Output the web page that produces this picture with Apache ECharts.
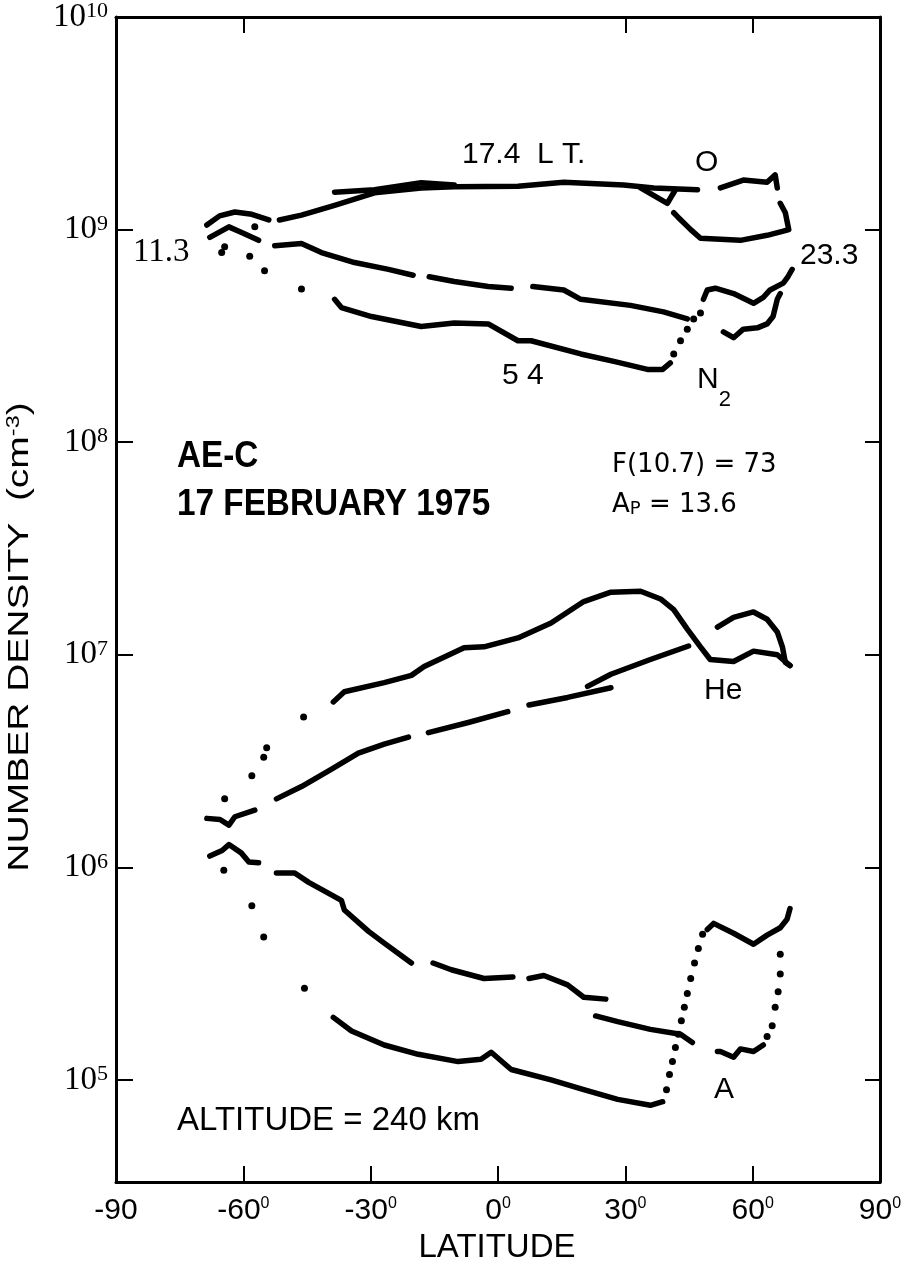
<!DOCTYPE html>
<html>
<head>
<meta charset="utf-8">
<script src="https://cdn.jsdelivr.net/npm/echarts@6.0.0/dist/echarts.min.js"></script>
<style>
  html, body { margin: 0; padding: 0; background: #fff; }
  #chart { width: 909px; height: 1265px; }
</style>
</head>
<body>
<div id="chart"></div>
<script>
// ===== data: [latitude (deg), number density (cm-3)] =====
// O / N2 group
var upperDayArc = [[-68.6,1.05e9],[-65.6,1.16e9],[-62.0,1.21e9],[-58.0,1.18e9],[-54.0,1.11e9]];
var upperDay = [[-51.5,1.11e9],[-46.3,1.17e9],[-38.5,1.30e9],[-29.1,1.49e9],[-18.1,1.57e9],[-10.3,1.59e9],[4.7,1.60e9],[15.5,1.67e9],[29.6,1.62e9],[36.7,1.57e9],[47.0,1.54e9]];
var upperDay2 = [[-38.5,1.50e9],[-29.1,1.54e9],[-18.1,1.66e9],[-10.3,1.62e9]];
var upperLoop = [[33.6,1.57e9],[39.9,1.33e9],[41.8,1.54e9]];
var oPolar = [[52.4,1.57e9],[57.8,1.71e9],[63.4,1.67e9],[65.3,1.81e9],[65.8,1.57e9]];
var oNight = [[66.5,1.33e9],[67.7,1.2e9],[68.5,1.0e9],[67.0,9.8e8],[63.4,9.4e8],[57.1,8.9e8],[47.7,9.1e8],[45.4,1.0e9],[42.3,1.15e9],[41.4,1.2e9]];
var secondArc = [[-67.9,9.2e8],[-63.4,1.03e9],[-60.4,9.7e8],[-56.4,8.9e8]];
var second1 = [[-52.6,8.4e8],[-46.3,8.6e8],[-41.6,7.8e8],[-33.8,7.0e8],[-25.8,6.5e8],[-20.0,6.1e8]];
var second2 = [[-16.2,6.0e8],[-10.3,5.7e8],[-2.3,5.4e8],[3.1,5.3e8]];
var second3 = [[8.2,5.4e8],[15.5,5.2e8],[19.5,4.7e8],[31.2,4.4e8],[39.0,4.1e8],[44.6,3.8e8]];
var n2Lower = [[-38.5,4.7e8],[-36.9,4.3e8],[-29.8,3.9e8],[-18.1,3.5e8],[-10.3,3.64e8],[-2.3,3.6e8],[4.7,3.0e8],[7.8,3.0e8],[19.5,2.6e8],[27.3,2.4e8],[35.2,2.2e8],[38.8,2.2e8],[40.6,2.36e8]];
var n2Night = [[48.4,4.7e8],[49.3,5.2e8],[51.2,5.3e8],[55.5,5.0e8],[60.2,4.5e8],[62.5,4.8e8],[64.1,5.2e8],[67.2,5.6e8],[68.3,6.0e8],[69.3,6.5e8]];
var n2Night2 = [[53.1,3.3e8],[55.5,3.1e8],[57.8,3.4e8],[61.1,3.45e8],[63.4,3.6e8],[64.8,3.9e8],[65.8,4.7e8],[66.5,5.0e8]];
var upperDots = [[-65.1,7.8e8],[-64.4,8.3e8],[-58.5,7.5e8],[-57.3,1.03e9],[-55.0,6.4e8],[-46.3,5.25e8],
                 [41.4,2.6e8],[43.0,3.0e8],[44.6,3.4e8],[46.1,3.8e8],[47.7,4.05e8]];

// He group
var heDay = [[-38.8,6.0e6],[-36.2,6.7e6],[-26.8,7.4e6],[-20.4,8.0e6],[-17.4,8.8e6],[-8.0,1.08e7],[-3.3,1.09e7],[4.7,1.20e7],[12.5,1.41e7],[20.2,1.78e7],[26.6,1.97e7],[33.6,1.99e7],[38.3,1.83e7],[41.4,1.63e7],[44.6,1.32e7],[47.7,1.09e7],[50.0,9.5e6],[55.5,9.3e6],[60.2,1.04e7],[65.8,1.0e7],[68.8,8.9e6]];
var heHump = [[51.7,1.35e7],[55.5,1.5e7],[60.2,1.59e7],[63.4,1.47e7],[65.8,1.28e7],[67.0,1.09e7],[67.7,9.2e6],[68.8,8.9e6]];
var heNight1 = [[-68.6,1.7e6],[-65.5,1.68e6],[-63.4,1.58e6],[-62.0,1.73e6],[-57.3,1.86e6]];
var heNight2 = [[-52.2,2.1e6],[-46.3,2.4e6],[-39.2,2.9e6],[-32.9,3.45e6],[-26.8,3.8e6],[-21.1,4.1e6]];
var heNight3 = [[-16.4,4.3e6],[-7.0,4.8e6],[2.3,5.4e6]];
var heNight4 = [[7.3,5.8e6],[16.4,6.3e6],[26.6,7.0e6]];
var heNight5 = [[21.1,7.1e6],[26.6,8.1e6],[35.9,9.5e6],[44.9,1.1e7]];
var heDots = [[-45.8,5.1e6],[-54.5,3.65e6],[-55.2,3.3e6],[-58.0,2.7e6],[-64.4,2.1e6]];

// A (argon) group
var aDayArc = [[-67.9,1.13e6],[-65.0,1.2e6],[-63.4,1.28e6],[-60.5,1.17e6],[-58.7,1.06e6],[-56.4,1.05e6]];
var aDay1 = [[-52.2,9.4e5],[-47.9,9.4e5],[-44.6,8.5e5],[-36.9,7.0e5],[-36.2,6.3e5],[-30.5,5.0e5],[-26.8,4.4e5],[-20.4,3.55e5]];
var aDay2 = [[-15.3,3.55e5],[-11.0,3.3e5],[-3.3,3.0e5],[3.5,3.05e5]];
var aDay3 = [[7.3,3.0e5],[10.8,3.1e5],[16.4,2.8e5],[20.2,2.45e5],[25.4,2.4e5]];
var aDay4 = [[23.0,2.0e5],[28.2,1.88e5],[35.9,1.73e5],[43.0,1.64e5],[45.8,1.5e5]];
var aLower = [[-38.8,1.97e5],[-34.5,1.7e5],[-26.8,1.46e5],[-18.8,1.32e5],[-9.4,1.22e5],[-4.0,1.25e5],[-1.6,1.35e5],[3.1,1.12e5],[12.5,1.0e5],[20.2,9.0e4],[28.2,8.1e4],[35.9,7.6e4],[38.8,7.9e4]];
var aNight = [[49.3,5.1e5],[50.8,5.45e5],[55.5,4.9e5],[60.2,4.35e5],[63.4,4.8e5],[66.5,5.2e5],[68.1,5.7e5],[68.8,6.4e5]];
var aNight2 = [[51.7,1.36e5],[52.4,1.36e5],[55.5,1.28e5],[57.1,1.4e5],[60.2,1.36e5],[62.5,1.46e5]];
var aDots = [[-64.6,9.7e5],[-58.0,6.6e5],[-55.2,4.7e5],[-45.6,2.7e5],
             [39.7,9.0e4],[40.4,1.06e5],[41.1,1.22e5],[41.8,1.42e5],[42.5,1.64e5],[43.2,1.9e5],[43.9,2.2e5],[44.6,2.55e5],[45.4,3.0e5],[46.3,3.55e5],[47.2,4.15e5],[48.2,4.85e5],
             [66.5,3.9e5],[66.5,3.15e5],[66.0,2.6e5],[65.3,2.2e5],[64.6,1.8e5],[63.4,1.6e5]];

var lineSegments = [upperDayArc, upperDay, upperDay2, upperLoop, oPolar, oNight, secondArc, second1, second2, second3,
                    n2Lower, n2Night, n2Night2,
                    heDay, heHump, heNight1, heNight2, heNight3, heNight4, heNight5,
                    aDayArc, aDay1, aDay2, aDay3, aDay4, aLower, aNight, aNight2];
var dotSets = [upperDots, heDots, aDots];

var topTicks = [-60, 30, 60];
var yMin = Math.pow(10, 4.52);
var yMax = 1e10;

var sans = "'Liberation Sans', Arial, sans-serif";
var serif = "'Liberation Serif', 'DejaVu Serif', serif";

var chart = echarts.init(document.getElementById('chart'));

var series = [];
lineSegments.forEach(function (seg) {
  series.push({
    type: 'line', data: seg,
    showSymbol: false, symbol: 'none', silent: true,
    lineStyle: { color: '#000', width: 5.5, cap: 'round', join: 'round' }
  });
});
dotSets.forEach(function (d) {
  series.push({
    type: 'scatter', data: d,
    symbolSize: 7, silent: true,
    itemStyle: { color: '#000', opacity: 1 }
  });
});

var option = {
  backgroundColor: '#fff',
  animation: false,
  grid: { left: 116, right: 29, top: 17, bottom: 83 },
  xAxis: [
    {
      type: 'value', position: 'bottom', min: -90, max: 90, interval: 30,
      axisLine: { show: true, onZero: false, lineStyle: { color: '#000', width: 3 } },
      axisTick: { show: true, inside: true, length: 16, lineStyle: { color: '#000', width: 2 } },
      splitLine: { show: false },
      axisLabel: {
        margin: 14, color: '#000', fontFamily: sans, fontSize: 30,
        formatter: function (v) { return v === -90 ? '-90' : v + '{d|0}'; },
        rich: { d: { fontFamily: sans, fontSize: 16, verticalAlign: 'top', lineHeight: 30, color: '#000' } }
      }
    },
    {
      type: 'value', position: 'top', min: -90, max: 90, interval: 30,
      axisLine: { show: true, onZero: false, lineStyle: { color: '#000', width: 3 } },
      axisTick: { show: true, inside: true, length: 16, customValues: topTicks, lineStyle: { color: '#000', width: 2 } },
      axisLabel: { show: false, customValues: topTicks },
      splitLine: { show: false }
    }
  ],
  yAxis: [
    {
      type: 'log', logBase: 10, position: 'left', min: yMin, max: yMax,
      axisLine: { show: true, onZero: false, lineStyle: { color: '#000', width: 3 } },
      axisTick: { show: true, inside: true, length: 17, lineStyle: { color: '#000', width: 2 } },
      minorTick: { show: false },
      splitLine: { show: false },
      axisLabel: {
        margin: 8, color: '#000', fontFamily: serif, fontSize: 33, showMinLabel: false,
        formatter: function (v) {
          var p = Math.round(Math.log(v) / Math.LN10);
          return '{b|10}{s|' + p + '}';
        },
        rich: {
          b: { fontFamily: serif, fontSize: 33, lineHeight: 33, color: '#000' },
          s: { fontFamily: serif, fontSize: 22, lineHeight: 22, verticalAlign: 'top', color: '#000' }
        }
      }
    },
    {
      type: 'log', logBase: 10, position: 'right', min: yMin, max: yMax,
      axisLine: { show: true, onZero: false, lineStyle: { color: '#000', width: 3 } },
      axisTick: { show: true, inside: true, length: 15, lineStyle: { color: '#000', width: 2 } },
      axisLabel: { show: false },
      splitLine: { show: false }
    }
  ],
  graphic: [
    { type: 'text', x: 20, y: 637, rotation: Math.PI / 2, scaleX: 1.3,
      style: { text: '{a|NUMBER DENSITY  (cm}{s|-3}{a|)}', align: 'center', verticalAlign: 'middle',
        rich: { a: { fontFamily: sans, fontSize: 30, fill: '#000', lineHeight: 30 },
                s: { fontFamily: sans, fontSize: 18, fill: '#000', lineHeight: 18, verticalAlign: 'top' } } } },
    { type: 'text', x: 497, y: 1248,
      style: { text: 'LATITUDE', fontFamily: sans, fontSize: 33, fill: '#000', align: 'center', verticalAlign: 'middle' } },
    { type: 'text', x: 462, y: 155,
      style: { text: '17.4  L T.', fontFamily: sans, fontSize: 30, fill: '#000', verticalAlign: 'middle' } },
    { type: 'text', x: 695, y: 163,
      style: { text: 'O', fontFamily: sans, fontSize: 30, fill: '#000', verticalAlign: 'middle' } },
    { type: 'text', x: 133, y: 252,
      style: { text: '11.3', fontFamily: serif, fontSize: 33, fill: '#000', verticalAlign: 'middle' } },
    { type: 'text', x: 800, y: 256,
      style: { text: '23.3', fontFamily: sans, fontSize: 30, fill: '#000', verticalAlign: 'middle' } },
    { type: 'text', x: 502, y: 376,
      style: { text: '5 4', fontFamily: sans, fontSize: 30, fill: '#000', verticalAlign: 'middle' } },
    { type: 'text', x: 697, y: 380,
      style: { text: '{a|N}{s|2}', verticalAlign: 'middle',
        rich: { a: { fontFamily: sans, fontSize: 30, fill: '#000', lineHeight: 30 },
                s: { fontFamily: sans, fontSize: 22, fill: '#000', lineHeight: 22, verticalAlign: 'bottom', padding: [0, 0, -16, 0] } } } },
    { type: 'text', x: 177, y: 457, scaleX: 0.9,
      style: { text: 'AE-C', fontFamily: sans, fontWeight: 'bold', fontSize: 37, fill: '#000', verticalAlign: 'middle' } },
    { type: 'text', x: 177, y: 505, scaleX: 0.9,
      style: { text: '17 FEBRUARY 1975', fontFamily: sans, fontWeight: 'bold', fontSize: 37, fill: '#000', verticalAlign: 'middle' } },
    { type: 'text', x: 612, y: 465,
      style: { text: 'F(10.7) = 73', fontFamily: "'DejaVu Sans', sans-serif", fontSize: 26, fill: '#000', verticalAlign: 'middle' } },
    { type: 'text', x: 612, y: 505,
      style: { text: '{a|A}{s|P}{a| = 13.6}', verticalAlign: 'middle',
        rich: { a: { fontFamily: "'DejaVu Sans', sans-serif", fontSize: 26, fill: '#000', lineHeight: 26 },
                s: { fontFamily: "'DejaVu Sans', sans-serif", fontSize: 18, fill: '#000', lineHeight: 26, verticalAlign: 'bottom' } } } },
    { type: 'text', x: 704, y: 691,
      style: { text: 'He', fontFamily: sans, fontSize: 30, fill: '#000', verticalAlign: 'middle' } },
    { type: 'text', x: 714, y: 1090,
      style: { text: 'A', fontFamily: sans, fontSize: 30, fill: '#000', verticalAlign: 'middle' } },
    { type: 'text', x: 177, y: 1121,
      style: { text: 'ALTITUDE = 240 km', fontFamily: sans, fontSize: 33, fill: '#000', verticalAlign: 'middle' } }
  ],
  series: series
};

chart.setOption(option);
</script>
</body>
</html>
